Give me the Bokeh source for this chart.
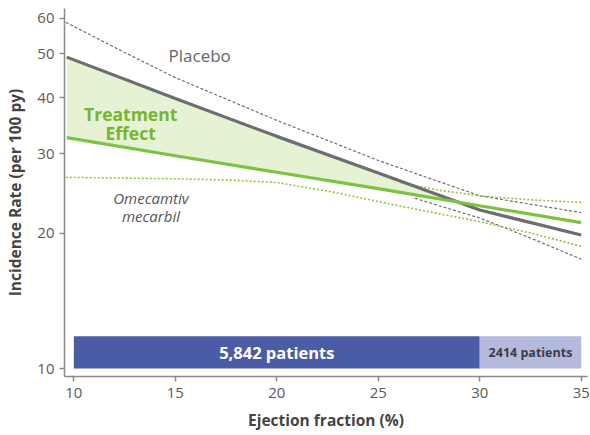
import numpy as np
from bokeh.plotting import figure
from bokeh.models import FixedTicker, PrintfTickFormatter, Range1d
from bokeh.core.properties import value
from bokeh.embed import file_html
from bokeh.resources import INLINE

# ---- data ----
ef = [9.65, 15, 20, 25, 30, 35]
placebo = [49.2, 39.8, 32.8, 27.2, 22.5, 19.8]
omecamtiv = [32.6, 29.7, 27.3, 25.1, 23.0, 21.1]

placebo_upper_x = [9.6, 12.5, 15, 20, 25, 30, 35]
placebo_upper = [58.8, 50.4, 44.3, 35.6, 29.0, 24.2, 22.2]
placebo_lower_x = [26.8, 28, 30, 32.5, 35]
placebo_lower = [23.9, 23.0, 21.6, 19.5, 17.5]

omec_lower_x = [9.6, 15, 17.5, 20, 22.5, 25, 27.5, 30, 32.5, 35]
omec_lower = [26.6, 26.4, 26.25, 25.9, 24.8, 23.5, 22.3, 21.2, 20.0, 18.7]
omec_upper_x = [26.1, 28, 30, 32.5, 35]
omec_upper = [25.9, 24.9, 24.2, 23.7, 23.4]

x_ticks = [10, 15, 20, 25, 30, 35]
y_ticks = [10, 20, 30, 40, 50, 60]

bar_labels = ["5,842 patients", "2414 patients"]
bar_start = [10, 30]
bar_end = [30, 35]
bar_base = 10
bar_top = 11.8

FONT = "Open Sans"
GRAY = "#6d6e71"
GREEN = "#7dc242"

p = figure(width=590, height=435, y_axis_type="log",
           x_range=Range1d(9.54, 35.31), y_range=Range1d(9.6, 63.1),
           output_backend="svg", toolbar_location=None,
           min_border_left=64, min_border_right=3, min_border_top=8, min_border_bottom=59)
p.xgrid.visible = False
p.ygrid.visible = False
p.outline_line_color = None
p.background_fill_color = "white"
p.border_fill_color = "white"

# ---- treatment effect fill (between placebo and omecamtiv up to their crossing) ----
lx = np.array(ef, dtype=float)
lp = np.log10(placebo)
lo = np.log10(omecamtiv)
d = lp - lo
k = int(np.where(d <= 0)[0][0])
t = d[k - 1] / (d[k - 1] - d[k])
xc = lx[k - 1] + t * (lx[k] - lx[k - 1])
yc = 10 ** (lp[k - 1] + t * (lp[k] - lp[k - 1]))
fx = list(lx[:k]) + [xc] + list(lx[:k][::-1])
fy = list(np.array(placebo)[:k]) + [yc] + list(np.array(omecamtiv)[:k][::-1])
p.patch(fx, fy, fill_color="#e6f2d4", line_color=None)

# ---- CI lines ----
p.line(placebo_upper_x, placebo_upper, line_color=GRAY, line_width=1.2, line_dash="3 2")
p.line(placebo_lower_x, placebo_lower, line_color=GRAY, line_width=1.2, line_dash="3 2")
p.line(omec_lower_x, omec_lower, line_color="#8cc63f", line_width=1.6, line_dash="2 2")
p.line(omec_upper_x, omec_upper, line_color="#8cc63f", line_width=1.6, line_dash="2 2")

# ---- main lines ----
p.line(ef, placebo, line_color=GRAY, line_width=3.2)
p.line(ef, omecamtiv, line_color=GREEN, line_width=3.2)

# ---- patient bars ----
p.quad(left=bar_start, right=bar_end, bottom=bar_base, top=bar_top,
       fill_color=["#4b5ca7", "#b4b9de"], line_color=None)
bx = [(a + b) / 2 for a, b in zip(bar_start, bar_end)]
by = float(np.sqrt(bar_base * bar_top))
p.text(x=[bx[0]], y=[by], text=[bar_labels[0]], text_font=value(FONT), text_font_size="16.5px",
       text_font_style="bold", text_color="white", text_align="center", text_baseline="middle")
p.text(x=[bx[1]], y=[by], text=[bar_labels[1]], text_font=value(FONT), text_font_size="12.5px",
       text_font_style="bold", text_color="#3d3d45", text_align="center", text_baseline="middle")

# ---- annotations ----
p.text(x=[16.2], y=[49.6], text=["Placebo"], text_font=value(FONT), text_font_size="17px",
       text_color="#666666", text_align="center", text_baseline="middle")
p.text(x=[12.8, 12.8], y=[36.7, 33.3], text=["Treatment", "Effect"], text_font=value(FONT),
       text_font_size="17.5px", text_font_style="bold", text_color="#78b432",
       text_align="center", text_baseline="middle")
p.text(x=[13.8, 13.8], y=[23.9, 21.8], text=["Omecamtiv", "mecarbil"], text_font=value(FONT),
       text_font_size="15px", text_font_style="italic", text_color="#555555",
       text_align="center", text_baseline="middle")

# ---- axes ----
p.xaxis.ticker = FixedTicker(ticks=x_ticks, minor_ticks=[])
p.yaxis.ticker = FixedTicker(ticks=y_ticks, minor_ticks=[])
p.yaxis.formatter = PrintfTickFormatter(format="%d")
for ax in (p.xaxis[0], p.yaxis[0]):
    ax.axis_line_color = "#8a8a8a"
    ax.axis_line_width = 1.5
    ax.major_tick_line_color = "#8a8a8a"
    ax.major_tick_line_width = 1.5
    ax.major_tick_out = 5
    ax.major_tick_in = 0
    ax.minor_tick_line_color = None
    ax.major_label_text_font = FONT
    ax.major_label_text_font_size = "15px"
    ax.major_label_text_color = "#5a5a5a"
    ax.axis_label_text_font = FONT
    ax.axis_label_text_font_size = "15.5px"
    ax.axis_label_text_font_style = "bold"
    ax.axis_label_text_color = "#444444"
p.xaxis.axis_label = "Ejection fraction (%)"
p.yaxis.axis_label = "Incidence Rate (per 100 py)"
p.yaxis.axis_label_standoff = 8
p.xaxis.axis_label_standoff = 8
p.yaxis.major_label_standoff = 5
p.xaxis.major_label_standoff = 6

open("out.html", "w").write(file_html(p, INLINE))
